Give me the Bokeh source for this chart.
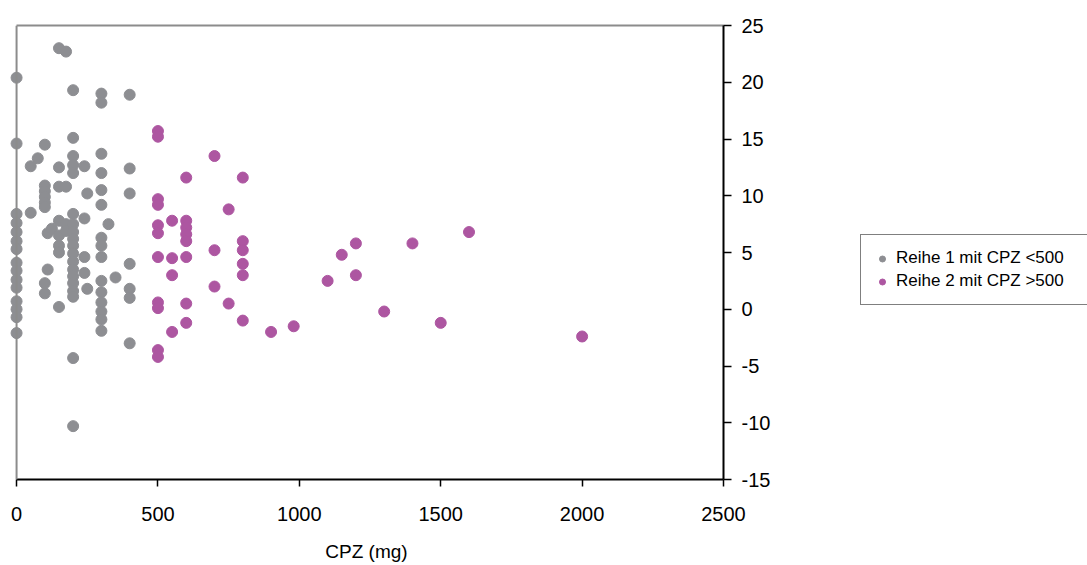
from bokeh.plotting import figure
from bokeh.layouts import row
from bokeh.models import (Range1d, FixedTicker, Legend, LegendItem, LinearAxis, Span,
                          PrintfTickFormatter)
from bokeh.embed import file_html
from bokeh.resources import INLINE

grey_cpz = [0, 50, 75, 100, 110, 125, 150, 175, 200, 240, 250, 300, 325, 350, 400]
grey_vals = [
    [20.4, 14.6, 8.4, 7.6, 6.8, 6.0, 5.3, 4.1, 3.4, 2.6, 1.9, 0.7, 0.0, -0.7, -2.1],
    [8.5, 12.6],
    [13.3],
    [14.5, 10.9, 10.4, 9.9, 9.4, 9.0, 2.3, 1.4],
    [6.7, 3.5],
    [7.1],
    [23.0, 12.5, 10.8, 7.8, 6.5, 5.6, 5.0, 0.2],
    [22.7, 10.8, 7.5, 6.9],
    [19.3, 15.1, 13.5, 12.7, 12.0, 8.4, 7.5, 6.8, 6.2, 5.6, 4.9, 4.2, 3.5, 2.9, 2.3, 1.6, 1.1, -4.3, -10.3],
    [12.6, 8.0, 4.6, 3.2],
    [10.2, 1.8],
    [19.0, 18.2, 13.7, 12.0, 10.5, 9.2, 6.3, 5.6, 4.6, 2.5, 1.5, 0.6, -0.2, -0.9, -1.9],
    [7.5],
    [2.8],
    [18.9, 12.4, 10.2, 4.0, 1.8, 1.0, -3.0],
]

pink_cpz = [500, 550, 600, 700, 750, 800, 900, 980, 1100, 1150, 1200, 1300, 1400, 1500, 1600, 2000]
pink_vals = [
    [15.7, 15.2, 9.7, 9.2, 7.4, 6.7, 4.6, 0.6, 0.1, -3.6, -4.2],
    [7.8, 4.5, 3.0, -2.0],
    [11.6, 7.8, 7.2, 6.6, 6.0, 4.6, 0.5, -1.2],
    [13.5, 5.2, 2.0],
    [8.8, 0.5],
    [11.6, 6.0, 5.2, 4.0, 3.0, -1.0],
    [-2.0],
    [-1.5],
    [2.5],
    [4.8],
    [5.8, 3.0],
    [-0.2],
    [5.8],
    [-1.2],
    [6.8],
    [-2.4],
]

x_ticks = [0, 500, 1000, 1500, 2000, 2500]
y_ticks = [-15, -10, -5, 0, 5, 10, 15, 20, 25]
series_labels = ["Reihe 1 mit CPZ <500", "Reihe 2 mit CPZ >500"]
x_title = "CPZ (mg)"


def flatten(doses, vals):
    xs, ys = [], []
    for d, vs in zip(doses, vals):
        for v in vs:
            xs.append(d)
            ys.append(v)
    return xs, ys


grey_x, grey_y = flatten(grey_cpz, grey_vals)
pink_x, pink_y = flatten(pink_cpz, pink_vals)

GREY = "#8d8e92"
PINK = "#ad56a1"
BORDER = "#8c8c8c"
FONT = "Liberation Sans"

MAIN_W = 775
p = figure(width=MAIN_W, height=565, output_backend="svg", toolbar_location=None,
           x_range=Range1d(-25, 2500), y_range=Range1d(-15, 25), y_axis_location="right",
           min_border_left=9, min_border_top=25, min_border_right=MAIN_W - 723,
           min_border_bottom=86)
p.grid.visible = False
p.outline_line_color = None
p.background_fill_color = "white"
p.border_fill_color = "white"

xa = p.below[0]
ya = p.right[0]

# grey frame lines (left and top)
p.add_layout(Span(location=0, dimension="height", line_color=BORDER, line_width=2))
top_axis = LinearAxis(bounds=(0, 2500), axis_line_color=BORDER, axis_line_width=2,
                      major_tick_line_color=None, minor_tick_line_color=None,
                      major_tick_out=0, major_tick_in=0, major_label_standoff=0,
                      major_label_text_font_size="1px", major_label_text_color=None,
                      ticker=FixedTicker(ticks=[]))
p.add_layout(top_axis, "above")

r1 = p.scatter(grey_x, grey_y, marker="circle", size=11, fill_color=GREY, line_color=GREY)
r2 = p.scatter(pink_x, pink_y, marker="circle", size=11, fill_color=PINK, line_color=PINK)

xa.bounds = (0, 2500)
xa.ticker = FixedTicker(ticks=x_ticks)
xa.axis_label = x_title
xa.axis_line_color = "black"
xa.axis_line_width = 2
xa.major_tick_line_color = "black"
xa.major_tick_line_width = 1.5
xa.major_tick_out = 7
xa.major_tick_in = 0
xa.minor_tick_line_color = None
xa.major_label_text_font = FONT
xa.major_label_text_font_size = "20px"
xa.major_label_text_color = "black"
xa.major_label_standoff = 20
xa.axis_label_text_font = FONT
xa.axis_label_text_font_size = "19px"
xa.axis_label_text_font_style = "normal"
xa.axis_label_text_color = "black"
xa.axis_label_standoff = 17

ya.ticker = FixedTicker(ticks=y_ticks)
ya.formatter = PrintfTickFormatter(format="%d")
ya.axis_line_color = "black"
ya.axis_line_width = 2
ya.major_tick_line_color = "black"
ya.major_tick_line_width = 1.5
ya.major_tick_out = 8
ya.major_tick_in = 0
ya.minor_tick_line_color = None
ya.major_label_text_font = FONT
ya.major_label_text_font_size = "20px"
ya.major_label_text_color = "black"
ya.major_label_standoff = 10

# ---- legend panel (a second figure that only hosts the legend) ----
LEG_W = 1087 - MAIN_W
q = figure(width=LEG_W, height=565, output_backend="svg", toolbar_location=None,
           x_range=Range1d(5000, 5001), y_range=Range1d(100, 101),
           x_axis_type=None, y_axis_type=None, min_border=0)
q.grid.visible = False
q.outline_line_color = None
q.background_fill_color = "white"
q.border_fill_color = "white"
# same series (they fall outside this panel's ranges, only their legend glyphs show)
g1 = q.scatter(grey_x, grey_y, marker="circle", size=11, fill_color=GREY, line_color=GREY)
g2 = q.scatter(pink_x, pink_y, marker="circle", size=11, fill_color=PINK, line_color=PINK)

legend = Legend(items=[LegendItem(label=series_labels[0], renderers=[g1]),
                       LegendItem(label=series_labels[1], renderers=[g2])],
                location=(860 - MAIN_W, 174), orientation="vertical")
legend.border_line_color = "black"
legend.border_line_width = 1
legend.background_fill_color = "white"
legend.background_fill_alpha = 1
legend.label_text_font = FONT
legend.label_text_font_size = "17px"
legend.label_text_color = "black"
legend.padding = 13
legend.spacing = 3
legend.margin = 0
legend.glyph_height = 15
legend.glyph_width = 16
legend.label_height = 20
legend.label_width = 200
legend.label_standoff = 6
q.add_layout(legend)

layout = row(p, q, spacing=0)
open("out.html", "w").write(file_html(layout, INLINE))
